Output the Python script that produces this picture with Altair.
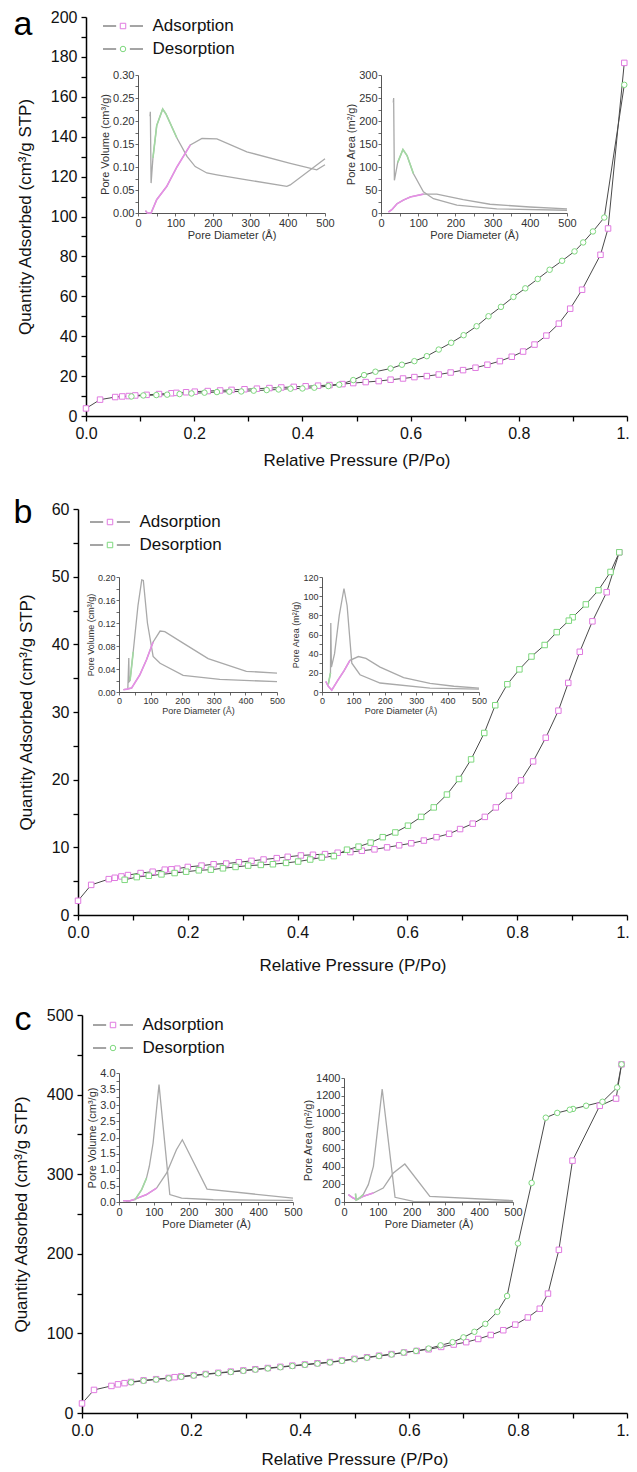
import altair as alt
import pandas as pd

FONT = "Liberation Sans"
PINK = "#e07ae0"
GREEN = "#7ed87e"
LEG_LINE = "#4a4a4a"
IN_GRAY = "#a9a9a9"
IN_PINK = "#e68ee6"
IN_GREEN = "#a2d9a2"

W, H = 621, 1464

# ---------------- data: (relative pressure, quantity adsorbed) ----------------
a_ads = [(0.0, 3.8), (0.026, 8.2), (0.054, 9.5), (0.067, 9.8), (0.079, 10.0), (0.091, 10.3),
         (0.112, 10.6), (0.135, 11.0), (0.158, 11.4), (0.167, 11.6), (0.185, 11.9), (0.201, 12.2),
         (0.225, 12.5), (0.248, 12.8), (0.269, 13.1), (0.293, 13.4), (0.316, 13.7), (0.339, 14.0),
         (0.361, 14.3), (0.384, 14.6), (0.406, 14.9), (0.429, 15.2), (0.45, 15.5), (0.474, 16.0),
         (0.494, 16.5), (0.517, 17.0), (0.541, 17.5), (0.563, 18.2), (0.586, 18.8), (0.607, 19.5),
         (0.63, 20.0), (0.652, 20.8), (0.674, 21.8), (0.697, 23.0), (0.72, 24.2), (0.742, 25.7),
         (0.765, 27.5), (0.787, 29.7), (0.808, 32.3), (0.829, 35.8), (0.851, 40.3), (0.874, 46.3),
         (0.895, 53.8), (0.917, 63.3), (0.951, 80.8), (0.965, 94.0), (0.995, 177.0)]
a_des = [(0.995, 166.0), (0.958, 99.5), (0.937, 92.5), (0.919, 87.0), (0.903, 82.5), (0.88, 77.8),
         (0.857, 73.3), (0.835, 68.7), (0.812, 64.0), (0.79, 59.7), (0.767, 54.7), (0.744, 50.0),
         (0.722, 45.0), (0.698, 40.5), (0.675, 36.7), (0.652, 33.3), (0.63, 30.0), (0.607, 27.5),
         (0.584, 25.7), (0.563, 23.8), (0.535, 22.2), (0.514, 20.5), (0.494, 18.0), (0.468, 15.7),
         (0.448, 15.0), (0.422, 14.2), (0.4, 13.8), (0.378, 13.7), (0.356, 13.3), (0.334, 13.0),
         (0.31, 12.7), (0.287, 12.3), (0.265, 12.2), (0.242, 12.0), (0.219, 11.7), (0.195, 11.3),
         (0.173, 11.0), (0.15, 10.7), (0.13, 10.5), (0.106, 10.3), (0.084, 9.8)]

b_ads = [(0.0, 2.1), (0.024, 4.45), (0.056, 5.3), (0.067, 5.5), (0.079, 5.7), (0.091, 5.9),
         (0.114, 6.2), (0.136, 6.4), (0.158, 6.7), (0.17, 6.75), (0.181, 6.85), (0.2, 7.1),
         (0.225, 7.3), (0.247, 7.5), (0.27, 7.6), (0.293, 7.8), (0.316, 8.0), (0.338, 8.2),
         (0.362, 8.4), (0.382, 8.6), (0.406, 8.8), (0.428, 8.9), (0.45, 9.0), (0.473, 9.2),
         (0.496, 9.3), (0.517, 9.5), (0.54, 9.7), (0.563, 10.0), (0.585, 10.3), (0.607, 10.6),
         (0.63, 11.0), (0.653, 11.5), (0.676, 12.0), (0.696, 12.7), (0.719, 13.5), (0.741, 14.5),
         (0.761, 15.9), (0.785, 17.6), (0.807, 19.9), (0.829, 22.7), (0.852, 26.2), (0.875, 30.2),
         (0.893, 34.3), (0.914, 38.9), (0.937, 43.4), (0.963, 47.7), (0.986, 53.6)]
b_des = [(0.986, 53.6), (0.97, 50.7), (0.948, 48.0), (0.925, 45.9), (0.901, 44.0), (0.894, 43.5),
         (0.872, 41.8), (0.85, 39.9), (0.826, 38.2), (0.804, 36.3), (0.782, 34.1), (0.76, 31.0),
         (0.74, 26.9), (0.716, 23.0), (0.694, 20.1), (0.672, 17.8), (0.648, 15.9), (0.625, 14.5),
         (0.601, 13.2), (0.578, 12.2), (0.555, 11.5), (0.533, 10.7), (0.511, 10.1), (0.49, 9.65),
         (0.466, 8.7), (0.444, 8.5), (0.423, 8.2), (0.401, 7.9), (0.379, 7.7), (0.355, 7.5),
         (0.333, 7.4), (0.31, 7.3), (0.287, 7.1), (0.264, 6.9), (0.242, 6.7), (0.22, 6.6),
         (0.197, 6.4), (0.176, 6.2), (0.152, 6.0), (0.129, 5.8), (0.107, 5.6), (0.085, 5.2)]

c_ads = [(0.0, 12), (0.022, 29), (0.054, 34), (0.066, 36), (0.078, 37.5), (0.09, 39),
         (0.113, 41), (0.136, 42.5), (0.159, 44), (0.17, 45), (0.182, 46), (0.205, 47.5),
         (0.227, 49), (0.25, 50.5), (0.273, 52), (0.296, 53.5), (0.318, 55), (0.341, 56.5),
         (0.364, 58), (0.386, 59.5), (0.409, 61), (0.432, 62.5), (0.455, 64), (0.477, 66),
         (0.5, 68), (0.523, 70), (0.545, 72), (0.568, 74), (0.591, 76), (0.614, 78),
         (0.636, 80), (0.659, 83), (0.682, 86), (0.705, 89), (0.727, 93), (0.75, 98),
         (0.773, 104), (0.795, 111), (0.818, 120), (0.84, 131), (0.855, 150), (0.875, 205),
         (0.9, 317), (0.95, 386), (0.98, 395), (0.99, 438)]
c_des = [(0.99, 438), (0.982, 409), (0.955, 391), (0.925, 386), (0.901, 382), (0.895, 381),
         (0.872, 377), (0.851, 371), (0.825, 289), (0.8, 213), (0.78, 147), (0.762, 127),
         (0.74, 112), (0.72, 102), (0.7, 95), (0.68, 89), (0.658, 85), (0.636, 81),
         (0.613, 78), (0.59, 76), (0.568, 73.5), (0.545, 71.5), (0.523, 69.5), (0.5, 67.5),
         (0.477, 65.5), (0.455, 63.5), (0.432, 62), (0.409, 60.5), (0.386, 59), (0.364, 57.5),
         (0.341, 56), (0.318, 54.5), (0.296, 53), (0.273, 51.5), (0.25, 50), (0.227, 48.5),
         (0.205, 47), (0.182, 45.5), (0.159, 43.5), (0.136, 42), (0.113, 40.5), (0.09, 38.5)]

# ---------------- inset data: (pore diameter, value) ----------------
a_vol_ads = [(20, 0.005), (25, 0.0), (35, 0.0), (50, 0.029), (77, 0.058), (104, 0.10), (140, 0.148),
             (171, 0.162), (211, 0.161), (291, 0.133), (407, 0.108), (478, 0.094), (500, 0.105)]
a_vol_des = [(32, 0.21), (33, 0.22), (35, 0.065), (40, 0.12), (50, 0.19), (66, 0.226), (75, 0.215),
             (104, 0.163), (131, 0.123), (153, 0.101), (184, 0.087), (211, 0.083), (291, 0.072),
             (398, 0.058), (407, 0.061), (500, 0.118)]
a_area_ads = [(20, 2), (30, 8), (43, 20), (60, 28), (79, 35), (114, 41), (150, 41), (221, 29),
              (293, 19), (400, 13), (500, 9)]
a_area_des = [(33, 240), (34, 250), (36, 71), (45, 110), (59, 138), (70, 125), (87, 86), (114, 46),
              (141, 31), (204, 17), (311, 9), (500, 6)]

b_vol_ads = [(14, 0.004), (25, 0.005), (40, 0.007), (66, 0.03), (87, 0.056), (108, 0.087),
             (130, 0.106), (145, 0.105), (203, 0.085), (282, 0.058), (403, 0.036), (500, 0.033)]
b_vol_des = [(28, 0.007), (31, 0.059), (32, 0.018), (35, 0.02), (45, 0.07), (60, 0.15), (72, 0.195),
             (77, 0.194), (90, 0.12), (108, 0.062), (130, 0.05), (203, 0.029), (319, 0.022), (500, 0.018)]
b_area_ads = [(12, 11), (20, 6), (31, 2), (50, 12), (70, 22), (89, 33), (116, 37), (140, 35),
              (185, 26), (260, 15), (344, 9), (420, 6), (500, 4)]
b_area_des = [(20, 8), (27, 20), (28, 72), (30, 26), (40, 40), (55, 80), (70, 108), (80, 90),
              (95, 30), (121, 18), (185, 9.4), (344, 4), (500, 3)]

c_vol_ads = [(12, 0.04), (30, 0.03), (41, 0.07), (79, 0.23), (108, 0.43), (137, 0.9), (165, 1.62),
             (182, 1.93), (253, 0.4), (500, 0.12)]
c_vol_des = [(20, 0.02), (46, 0.07), (65, 0.38), (79, 0.74), (87, 1.1), (98, 1.83), (115, 3.64),
             (146, 0.23), (180, 0.12), (271, 0.07), (500, 0.05)]
c_area_ads = [(13, 83), (25, 50), (37, 26), (57, 64), (87, 102), (116, 158), (146, 327), (180, 429),
              (254, 64), (500, 15)]
c_area_des = [(34, 95), (36, 22), (42, 34), (57, 83), (72, 196), (87, 403), (113, 1276), (151, 53),
              (205, 8), (500, 4)]

SERIES = ["Adsorption", "Desorption"]


def tick_values(top, step):
    return [round(i * step, 6) for i in range(int(round(top / step)) + 1)]


def every(step):
    return f"abs(datum.value / {step} - round(datum.value / {step})) < 0.001 ? datum.label : ''"


def main_panel(ads, des, g):
    rows = []
    for i, (p, q) in enumerate(ads):
        rows.append({"p": p, "q": q, "series": SERIES[0], "sym": "A", "i": i})
    for i, (p, q) in enumerate(des):
        rows.append({"p": p, "q": q, "series": SERIES[1], "sym": "D", "i": i})
    df = pd.DataFrame(rows)
    xr, yr = g["x"], g["y"]
    xs = alt.Scale(domain=[0, 1], range=list(xr), nice=False, zero=False)
    ys = alt.Scale(domain=[0, g["ymax"]], range=list(yr), nice=False, zero=False)
    xaxis = alt.Axis(orient="bottom", offset=yr[0] - H, values=tick_values(1.0, 0.1),
                     labelExpr=every(0.2), format=".1f", title="Relative Pressure (P/Po)",
                     labelFontSize=16, titleFontSize=17, tickSize=5, tickWidth=1.3,
                     domainWidth=1.5, labelPadding=4, titlePadding=g["xtp"], labelFlush=False,
                     labelOverlap=False, grid=False)
    yaxis = alt.Axis(orient="left", offset=-xr[0], values=tick_values(g["ymax"], g["ystep"]),
                     labelExpr=every(g["ylab"]), title="Quantity Adsorbed (cm³/g STP)",
                     labelFontSize=16, titleFontSize=17, tickSize=5, tickWidth=1.3,
                     domainWidth=1.5, labelPadding=4, titlePadding=g["ytp"], labelFlush=False,
                     labelOverlap=False, grid=False)
    cx, cy = g["legend"]          # centre of the legend symbol column, first-row centre
    lx, ly = cx - 3.5, cy - 8.5
    common = dict(orient="none", legendX=lx, legendY=ly, title=None, symbolSize=30,
                  symbolStrokeWidth=1, labelFontSize=17, padding=0, rowPadding=5)
    leg_line = alt.Legend(symbolType="M-7.3,0H-2.5M2.5,0H7.3", labelColor="#111",
                          labelOffset=21, **common)
    leg_pts = alt.Legend(labelExpr="' '", labelOpacity=0, labelOffset=21,
                         symbolFillColor="white", **common)
    lines = alt.Chart(df).mark_line(strokeWidth=1).encode(
        x=alt.X("p:Q", scale=xs, axis=xaxis),
        y=alt.Y("q:Q", scale=ys, axis=yaxis),
        color=alt.Color("series:N", scale=alt.Scale(domain=SERIES, range=[LEG_LINE, LEG_LINE]),
                        legend=leg_line),
        order="i:Q",
    )
    points = alt.Chart(df).mark_point(filled=False, fill="white", size=30, strokeWidth=1,
                                      opacity=1).encode(
        x=alt.X("p:Q", scale=xs, axis=None),
        y=alt.Y("q:Q", scale=ys, axis=None),
        color=alt.Color("sym:N", scale=alt.Scale(domain=["A", "D"], range=[PINK, GREEN]),
                        legend=leg_pts),
        shape=alt.Shape("sym:N", scale=alt.Scale(domain=["A", "D"],
                                                 range=["square", g["des_shape"]]),
                        legend=leg_pts),
    )
    tx, ty = g["letter_xy"]
    letter = alt.Chart(pd.DataFrame({"t": [g["letter"]]})).mark_text(
        fontSize=34, align="center", baseline="alphabetic", color="#000").encode(
        text="t:N", x=alt.value(tx), y=alt.value(ty))
    return [lines, points, letter]


def inset(ads, des, xr, yr, ymax, ystep, ylab, yfmt, ytitle, fs, pink_rng, green_rng):
    rows = []
    for i, (d, v) in enumerate(ads):
        rows.append({"d": d, "v": v, "s": "A", "i": i})
    for i, (d, v) in enumerate(des):
        rows.append({"d": d, "v": v, "s": "D", "i": i})
    df = pd.DataFrame(rows)
    xs = alt.Scale(domain=[0, 500], range=list(xr), nice=False, zero=False)
    ys = alt.Scale(domain=[0, ymax], range=list(yr), nice=False, zero=False)
    xaxis = alt.Axis(orient="bottom", offset=yr[0] - H, values=tick_values(500, 50),
                     labelExpr=every(100), title="Pore Diameter (Å)", labelFontSize=fs,
                     titleFontSize=fs, tickSize=3, tickWidth=0.8, domainWidth=0.9,
                     domainColor="#444", tickColor="#444", labelColor="#333", titleColor="#333",
                     labelPadding=1, titlePadding=1, labelFlush=False, labelOverlap=False, grid=False)
    yaxis = alt.Axis(orient="left", offset=-xr[0], values=tick_values(ymax, ystep),
                     labelExpr=every(ylab), format=yfmt, title=ytitle, labelFontSize=fs,
                     titleFontSize=fs, tickSize=3, tickWidth=0.8, domainWidth=0.9,
                     domainColor="#444", tickColor="#444", labelColor="#333", titleColor="#333",
                     labelPadding=1, titlePadding=2, labelFlush=False, labelOverlap=False, grid=False)
    base = alt.Chart(df)
    gray = base.mark_line(color=IN_GRAY, strokeWidth=1.3).encode(
        x=alt.X("d:Q", scale=xs, axis=xaxis), y=alt.Y("v:Q", scale=ys, axis=yaxis),
        detail="s:N", order="i:Q")
    pink = base.transform_filter(
        f"datum.s == 'A' && datum.d >= {pink_rng[0]} && datum.d <= {pink_rng[1]}"
    ).mark_line(color=IN_PINK, strokeWidth=1.6).encode(
        x=alt.X("d:Q", scale=xs, axis=None), y=alt.Y("v:Q", scale=ys, axis=None), order="i:Q")
    green = base.transform_filter(
        f"datum.s == 'D' && datum.d >= {green_rng[0]} && datum.d <= {green_rng[1]}"
    ).mark_line(color=IN_GREEN, strokeWidth=1.6).encode(
        x=alt.X("d:Q", scale=xs, axis=None), y=alt.Y("v:Q", scale=ys, axis=None), order="i:Q")
    return [gray, pink, green]


GA = dict(x=(78, 619), y=(408, 9), ymax=200, ystep=10, ylab=20, des_shape="circle",
          legend=(110, 18), letter="a", letter_xy=(15, 27), xtp=11, ytp=16)
GB = dict(x=(70, 619), y=(907, 501), ymax=60, ystep=5, ylab=10, des_shape="square",
          legend=(97, 514), letter="b", letter_xy=(15, 515), xtp=17, ytp=16)
GC = dict(x=(74, 619), y=(1405, 1007), ymax=500, ystep=50, ylab=100, des_shape="circle",
          legend=(100, 1017), letter="c", letter_xy=(15, 1022), xtp=13, ytp=16)

layers = []
layers += main_panel(a_ads, a_des, GA)
layers += inset(a_vol_ads, a_vol_des, (130, 317), (205, 67), 0.30, 0.025, 0.05, ".2f",
                "Pore Volume (cm³/g)", 11, (0, 150), (40, 120))
layers += inset(a_area_ads, a_area_des, (373, 559), (205, 67), 300, 25, 50, "d",
                "Pore Area (m²/g)", 11, (0, 130), (40, 100))
layers += main_panel(b_ads, b_des, GB)
layers += inset(b_vol_ads, b_vol_des, (111, 269), (684, 569), 0.20, 0.02, 0.04, ".2f",
                "Pore Volume (cm³/g)", 9, (0, 125), (33, 50))
layers += inset(b_area_ads, b_area_des, (314, 471), (684, 569), 120, 10, 20, "d",
                "Pore Area (m²/g)", 9, (0, 110), (20, 27))
layers += main_panel(c_ads, c_des, GC)
layers += inset(c_vol_ads, c_vol_des, (111, 285), (1194, 1065), 4.0, 0.25, 0.5, ".1f",
                "Pore Volume (cm³/g)", 11, (0, 125), (40, 85))
layers += inset(c_area_ads, c_area_des, (336, 505), (1194, 1070), 1400, 100, 200, "d",
                "Pore Area (m²/g)", 11, (0, 100), (30, 60))

chart = alt.layer(*layers).resolve_scale(
    x="independent", y="independent", color="independent", shape="independent"
).resolve_axis(
    x="independent", y="independent"
).resolve_legend(
    color="independent", shape="independent"
).properties(
    width=W, height=H, padding=0, autosize=alt.AutoSizeParams(type="none")
).configure(
    font=FONT
).configure_view(
    stroke=None
).configure_axis(
    labelFont=FONT, titleFont=FONT, titleFontWeight="normal", domainColor="#000",
    tickColor="#000", labelColor="#111", titleColor="#111"
).configure_legend(
    labelFont=FONT
)

chart.save("out.html", embed_options={"renderer": "svg", "actions": False})
